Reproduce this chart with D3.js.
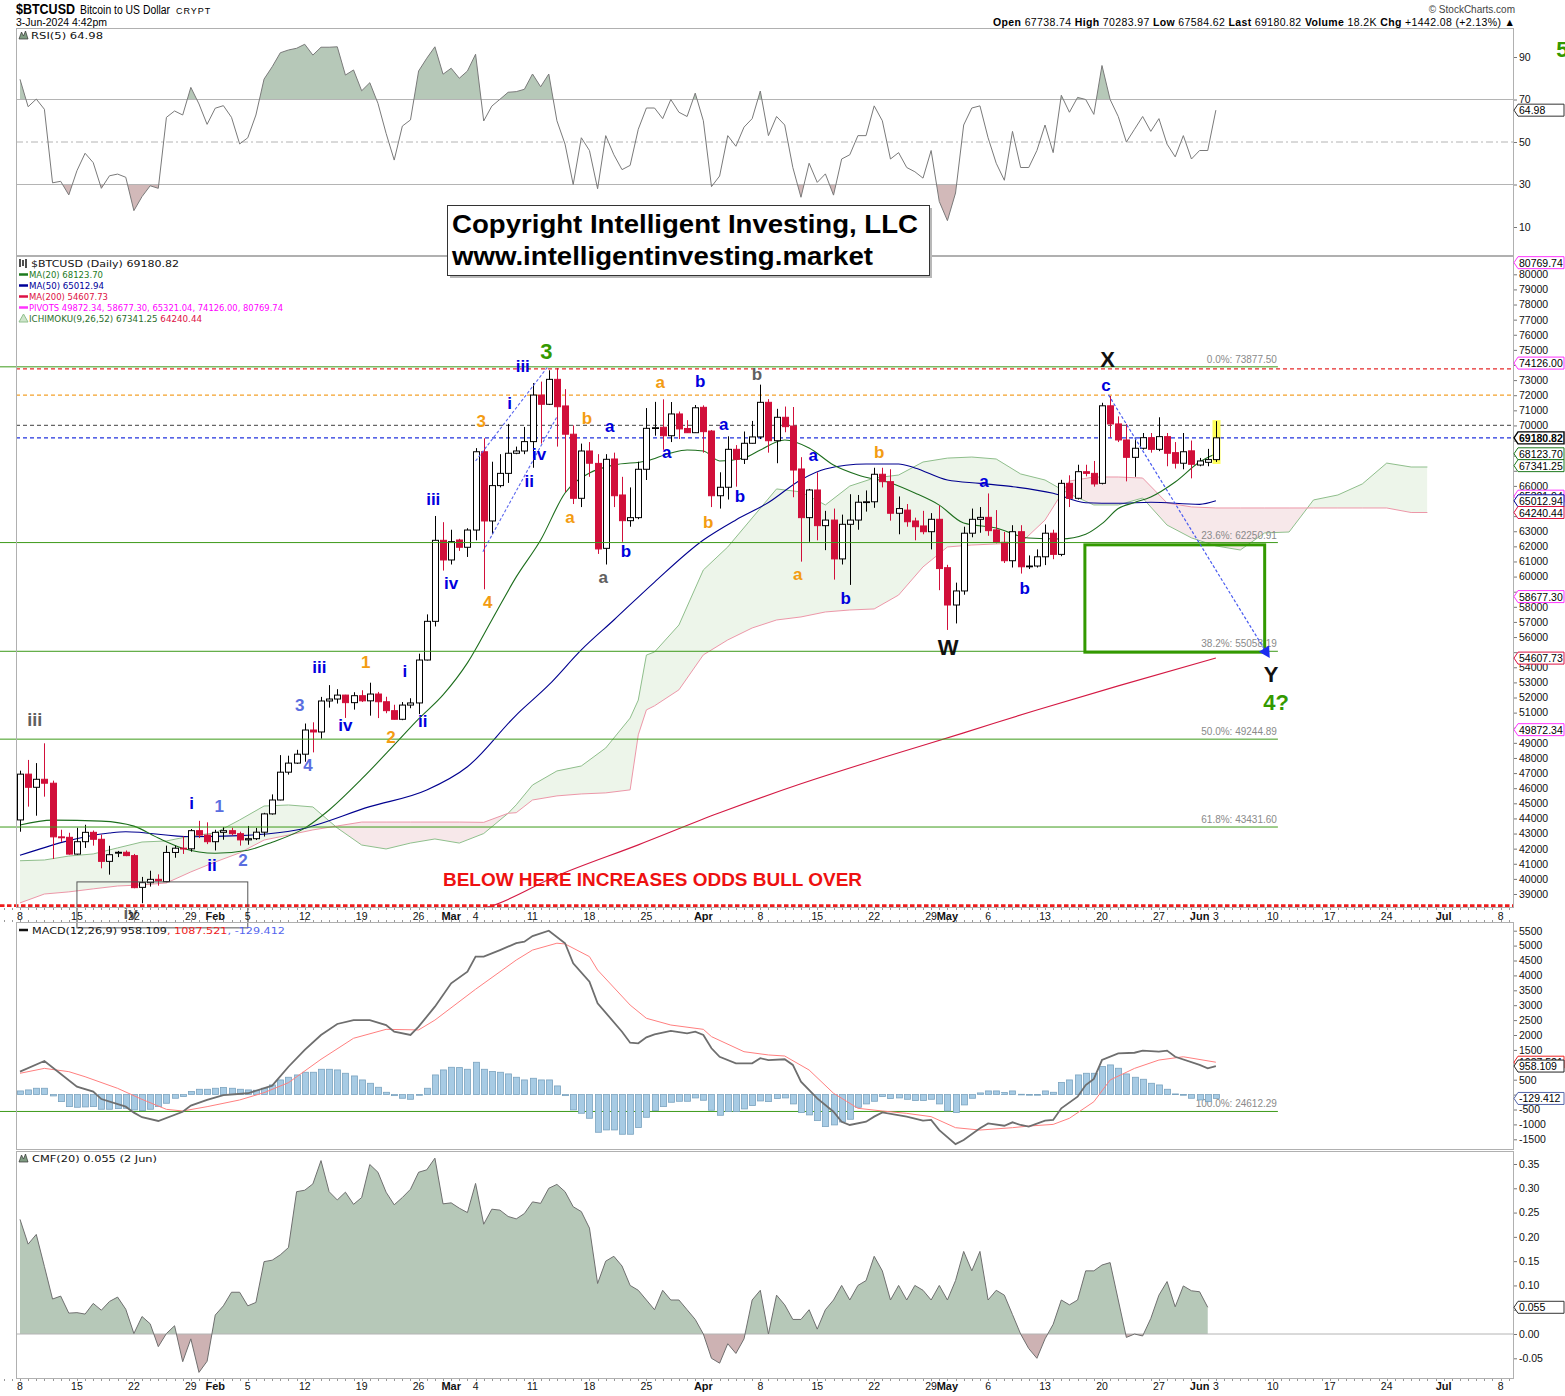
<!DOCTYPE html>
<html>
<head>
<meta charset="utf-8">
<title>$BTCUSD Bitcoin to US Dollar</title>
<script src="https://cdn.jsdelivr.net/npm/d3@7/dist/d3.min.js"></script>
<style>
html,body{margin:0;padding:0;background:#fff;}
svg{display:block;font-family:"Liberation Sans",Arial,sans-serif;}
</style>
</head>
<body>
<svg id="chart" width="1565" height="1396"></svg>
<script>
// ================= DATA =================
const firstDay = "2024-01-08";      // first daily bar
const axisEndDay = "2024-07-08";    // last date label on the axis

const openP = [43900,46930,46060,46590,46330,42780,42750,41640,42460,43080,
42620,41160,41700,41760,41540,39440,39750,39970,39820,41750,
42030,41990,43190,42900,42460,43080,43190,42990,42580,42660,
43090,44300,45220,47060,47660,48250,49850,49720,51770,51900,
52160,51660,52120,51780,52230,51720,51130,50560,51500,51640,
54480,57040,62400,61100,62420,61940,63080,68260,63680,66020,
66830,68160,68310,68930,72010,71400,73050,71290,69420,65180,
68310,67490,61870,67780,65400,63700,63900,67100,69810,69880,
69320,70760,69800,69520,71200,69630,65350,65910,68420,67760,
68820,69240,71530,68990,70540,69960,67120,63900,65730,63370,
63740,61170,63460,63740,64920,64950,66770,66280,64190,64400,
63680,63350,62970,63790,60590,58120,59050,62870,63790,63920,
63090,62270,61050,62970,60650,60700,61310,62870,61470,66170,
65180,66940,66830,66170,71300,70100,69040,67890,68490,69190,
68420,69260,68200,67500,68320,67380,67560,67738.74];
const highP = [47160,47870,47660,48970,46500,43250,43050,43380,43580,43200,
42930,42190,41850,41880,41650,40130,40540,40300,42200,42200,
42820,43300,43840,43740,43250,43420,43380,43120,43500,43370,
44370,45590,48190,48150,48540,50280,50360,52040,52820,52550,
52180,52350,52480,52980,52370,52050,51520,51700,51950,54900,
57500,64010,63600,63100,62500,63200,68500,69150,67600,68100,
70100,68600,69900,72800,72900,73650,73800,72400,70000,68800,
68900,68100,68100,68200,66600,65900,67600,71150,71560,71730,
71550,70920,70350,71350,71330,69700,66900,69280,68700,69600,
70300,72700,71740,71100,71250,71220,67900,65800,66900,64350,
64500,64100,65450,65400,65700,67200,67200,67100,65300,64800,
63900,64350,64200,64700,60780,59600,63300,64500,64600,65500,
64400,62950,63400,63400,61400,61800,63450,63100,66400,66700,
67400,67400,67650,71500,71950,70600,70100,69200,69500,69500,
70540,69500,68900,69500,69000,67850,68450,70283.97];
const lowP = [43120,44780,44180,45440,41320,42450,41600,41600,42050,42200,
40700,40280,41440,41500,39380,38390,39490,39550,39780,41400,
41650,41800,42700,42300,41880,42590,42880,42200,42260,42570,
42800,44250,45200,46900,47600,47750,48370,49280,51330,51600,
50650,51200,51700,50800,50640,50960,50550,50500,51290,50900,
54450,56700,60400,60800,61700,61300,62400,59160,62800,65900,
66200,68100,68100,67200,68800,71350,68600,65600,64800,64600,
66600,61500,60800,64600,62300,63300,63800,66390,69320,68390,
68900,69100,69500,69500,68200,64600,64500,65100,65950,67450,
68800,69100,68200,67500,69550,65250,60990,62300,62400,61750,
59800,60800,59450,63100,64300,64550,65900,63700,62800,63300,
62400,62800,61800,59100,56470,56900,58800,62600,62900,62700,
62200,60900,60600,60200,60500,60600,60760,61150,61350,64600,
65100,66630,65950,66100,69200,68900,66300,66600,68400,68200,
68300,67300,67150,67100,66500,67300,67300,67584.62];
const closeP = [46930,46060,46590,46330,42780,42720,41640,42460,43080,42620,
41160,41600,41760,41540,39420,39750,39970,39880,41750,42030,
41990,43190,42900,42460,43080,43190,42990,42580,42660,43090,
44300,45220,47060,47660,48250,49850,49720,51770,51900,52160,
51660,52120,51780,52230,51720,51130,50560,51500,51640,54480,
57040,62400,61100,62310,61940,63080,68260,63680,66020,66830,
68160,68310,68930,72010,71400,73050,71240,69420,65180,68310,
67500,61830,67760,65350,63700,63900,67100,69810,69850,69320,
70760,69770,69520,71170,69590,65350,65910,68420,67760,68820,
69240,71530,68990,70540,69920,67050,63900,65730,63370,63740,
61170,63460,63740,64920,64950,66770,66280,64190,64500,63630,
63300,62970,63790,60530,58120,59050,62870,63790,63920,63040,
62270,61050,62970,60650,60700,61310,62870,61470,66170,65180,
66940,66830,66130,71300,70100,69040,67890,68490,69190,68420,
69260,68160,67500,68260,67430,67650,67740,69180.82];

// moving averages: [bar index, value]
const ma20Pts = [[0,43560],[4,43890],[10,43820],[14,43490],[17,42700],[20,42030],[24,41700],[28,41900],[31,42430],[35,43360],[38,44560],[42,46610],[46,48860],[49,50580],[52,52170],[55,54290],[58,57130],[61,59980],[64,62420],[67,65530],[70,66850],[73,67380],[77,67650],[80,68180],[82,68380],[84,68310],[86,67650],[89,67850],[91,68380],[94,69040],[97,68510],[100,67380],[103,66720],[107,66190],[110,65530],[113,64730],[116,63540],[120,63210],[124,62550],[128,62490],[131,62800],[133,63500],[135,64500],[137,64900],[139,65270],[142,66260],[145,67580],[147,68124]];
const ma50Pts = [[0,41560],[11,43040],[13,43120],[21,42790],[27,42860],[34,43230],[43,44780],[50,45880],[55,47420],[61,50840],[65,52830],[69,55150],[73,57130],[78,59640],[84,62420],[88,63750],[92,64900],[96,66410],[99,67120],[104,67450],[108,67450],[110,67190],[114,66390],[118,66170],[122,65950],[127,65510],[131,64890],[135,64850],[139,64920],[145,64780],[147,65013]];
const ma200Pts = [[54,37700],[58,38220],[66,40200],[76,42250],[86,44370],[96,46290],[106,48010],[116,49660],[125,51180],[135,52770],[147,54608]];

// Ichimoku cloud spans (bar index, span A, span B)
const cloudIdx = [0,3,6,9,12,15,18,21,24,27,30,33,36,39,42,45,48,51,54,57,60,61,63,66,69,72,75,76,77,78,81,84,87,90,93,96,99,102,105,108,111,114,117,120,123,126,129,132,135,138,141,144,147,150,153,156,159,162,165,168,171,173];
const spanA = [41200,41250,41510,41650,42050,42440,42510,42840,43040,43900,44820,44890,44760,43370,42240,41980,42370,42640,42370,43000,44340,44900,46210,47140,47470,48660,50640,51830,54810,55010,56800,60440,61960,63880,65800,65600,64740,65990,66520,66720,67580,67840,67910,67780,66790,66390,65470,64740,64740,65200,63410,62560,62030,61760,62890,62950,65070,65400,66130,67510,67250,67250];
const spanB = [38410,39000,39140,39340,39530,39600,39730,40460,41120,41720,42570,42900,43240,43500,43760,43760,43760,43760,43760,43740,44340,44380,45220,45490,45620,45690,45890,49530,51180,51450,52510,54820,55810,56600,57130,57330,57660,57790,57860,58780,60640,61960,62090,62160,62220,63740,66320,66590,66590,66520,64870,64610,64540,64540,64540,64540,64540,64540,64540,64540,64240,64240];

const rsi5 = [79.5,66.6,70.2,65.4,30.8,31.5,25.1,36.5,44.7,40.3,
28.2,34.1,34.9,33.4,17.7,24.3,29.4,28.2,61.6,64.6,
62.7,75.7,67.9,58.3,65.9,67.1,61.6,49.1,52.0,62.7,
79.6,85.4,92.0,93.3,94.1,96.0,90.9,94.6,94.6,94.8,
81.5,83.9,74.1,77.9,68.2,54.1,41.5,57.5,60.4,83.4,
89.4,94.8,81.9,84.7,80.0,83.4,91.3,59.9,66.9,70.1,
73.4,73.7,74.8,82,76,82,60,49,30,52,
46,28,53,44,37,39,56,66,66,61,
70,64,62,73,60,29,34,53,48,57,
61,74,53,62,58,38,24,40,31,35,
25,42,44,53,53,67,60,42,45,38,
36,33,46,22,13,26,58,66,67,52,
40,32,55,38,38,46,58,45,72,64,
71,70,63,86,70,62,50,56,62,55,
61,49,43,53,42,46,46,64.98];

const macdPts = [[0,770],[3,1130],[7,265],[9,100],[10,-150],[13,-405],[14,-605],[15,-760],[17,-885],[20,-575],[21,-370],[23,-180],[25,-15],[28,45],[31,300],[33,935],[35,1500],[37,2000],[39,2370],[41,2500],[43,2500],[45,2335],[46,2110],[48,2000],[49,2280],[51,2950],[53,3735],[55,4125],[56,4630],[57,4630],[59,4850],[61,5080],[62,5130],[63,5320],[65,5500],[67,5080],[68,4405],[70,3790],[71,3065],[74,2110],[75,1740],[76,1720],[77,1920],[78,2020],[80,2135],[82,2055],[83,2110],[84,2000],[85,1555],[86,1270],[88,1050],[90,1050],[91,1220],[92,1160],[94,1185],[95,995],[96,435],[98,-125],[100,-575],[101,-910],[102,-1020],[104,-910],[105,-740],[106,-595],[109,-740],[111,-875],[112,-850],[113,-1190],[115,-1660],[116,-1525],[118,-1130],[119,-965],[121,-1045],[122,-930],[123,-1020],[124,-1075],[126,-875],[127,-850],[128,-460],[130,-70],[131,320],[132,525],[133,1160],[135,1385],[137,1405],[138,1475],[140,1440],[141,1475],[142,1270],[145,995],[146,880],[147,958]];
const signalPts = [[0,715],[3,880],[6,770],[8,600],[12,210],[15,-160],[18,-495],[20,-550],[23,-405],[27,-180],[30,65],[33,400],[37,1185],[41,1890],[45,2190],[49,2170],[51,2500],[56,3535],[61,4515],[63,4850],[66,5080],[67,5055],[70,4630],[71,4180],[75,3005],[77,2560],[80,2335],[84,2190],[85,1945],[89,1440],[92,1330],[94,1295],[97,825],[100,45],[103,-460],[106,-550],[109,-630],[112,-740],[115,-1110],[118,-1190],[122,-1110],[124,-1055],[127,-1000],[129,-795],[132,-240],[134,490],[137,880],[140,1160],[143,1270],[147,1087]];
const macdHist = [123,157,213,213,-45,-235,-403,-425,-414,-403,
-492,-492,-470,-459,-515,-537,-492,-403,-291,-123,
-67,101,179,179,213,235,213,179,157,146,
213,324,492,582,660,750,750,850,850,828,
716,626,492,380,246,78,-34,-123,-157,-22,
213,660,828,917,906,850,1085,850,772,750,
694,582,492,548,492,492,291,-34,-515,-626,
-794,-1264,-1186,-1186,-1331,-1331,-1107,-761,-537,-403,
-257,-224,-224,-112,-190,-526,-694,-571,-571,-481,
-369,-213,-235,-134,-112,-313,-604,-682,-873,-1074,
-1018,-918,-828,-425,-313,-224,-67,-134,-112,-157,
-201,-201,-157,-313,-548,-604,-347,-123,56,123,
123,67,123,11,0,0,123,78,403,492,
660,716,716,940,996,884,694,582,515,380,
324,179,22,-22,-123,-179,-235,-129];

const cmf20 = [0.236,0.185,0.205,0.139,0.072,0.078,0.043,0.044,0.041,0.063,
0.049,0.067,0.076,0.051,0.001,0.036,0.021,-0.026,0.001,0.017,
-0.057,-0.010,-0.079,-0.056,0.039,0.058,0.086,0.086,0.058,0.065,
0.149,0.152,0.163,0.178,0.293,0.296,0.309,0.357,0.293,0.276,
0.292,0.267,0.281,0.349,0.333,0.292,0.266,0.281,0.298,0.333,
0.338,0.362,0.268,0.270,0.259,0.250,0.310,0.226,0.257,0.255,
0.242,0.237,0.248,0.272,0.269,0.300,0.308,0.293,0.262,0.252,
0.218,0.104,0.15,0.16,0.14,0.10,0.09,0.07,0.05,0.09,
0.07,0.07,0.05,0.03,0.00,-0.05,-0.06,-0.02,-0.04,-0.01,
0.07,0.09,0.00,0.08,0.06,0.03,0.03,0.05,0.01,0.05,
0.07,0.10,0.07,0.10,0.11,0.16,0.13,0.07,0.10,0.07,
0.10,0.09,0.07,0.10,0.07,0.11,0.17,0.13,0.17,0.07,
0.09,0.08,0.04,0.00,-0.03,-0.05,-0.01,0.02,0.07,0.06,
0.07,0.13,0.13,0.142,0.147,0.07,-0.007,0.0,-0.004,0.032,
0.080,0.108,0.056,0.099,0.089,0.087,0.055];

const fibValues = [73877.50, 62250.91, 55058.19, 49244.89, 43431.60, 24612.29];
const fibNames = ["0.0%", "23.6%", "38.2%", "50.0%", "61.8%", "100.0%"];
const refLevels = [73740, 72000, 70000, 69180.82];
const refColors = ["#e52a2a", "#f3a12b", "#666666", "#2233dd"];
const bullOverLevel = 38230;

const priceTags = [80769.74, 74126.00, 69180.82, 68123.70, 67341.25, 65321.04, 65012.94, 64240.44, 58677.30, 54607.73, 49872.34];
const priceTagColors = ["#ff33ff","#ff33ff","#000000","#1d7a1d","#1d7a1d","#ff33ff","#000099","#dd1144","#ff33ff","#dd1144","#ff33ff"];
const macdTags = [1087.521, 958.109, -129.412];
const macdTagColors = ["#ee2222", "#222222", "#5566aa"];

const rsiTicks = [90, 70, 50, 30, 10];
const macdTicks = [5500,5000,4500,4000,3500,3000,2500,2000,1500,1000,500,0,-500,-1000,-1500];
const cmfTicks = [0.35,0.30,0.25,0.20,0.15,0.10,0.05,0.00,-0.05];
const priceTicks = d3.range(39000, 80001, 1000);

const dateLabels = [["2024-01-08","8"],["2024-01-15","15"],["2024-01-22","22"],["2024-01-29","29"],["2024-02-01","Feb"],["2024-02-05","5"],["2024-02-12","12"],["2024-02-19","19"],["2024-02-26","26"],["2024-03-01","Mar"],["2024-03-04","4"],["2024-03-11","11"],["2024-03-18","18"],["2024-03-25","25"],["2024-04-01","Apr"],["2024-04-08","8"],["2024-04-15","15"],["2024-04-22","22"],["2024-04-29","29"],["2024-05-01","May"],["2024-05-06","6"],["2024-05-13","13"],["2024-05-20","20"],["2024-05-27","27"],["2024-06-01","Jun"],["2024-06-03","3"],["2024-06-10","10"],["2024-06-17","17"],["2024-06-24","24"],["2024-07-01","Jul"],["2024-07-08","8"]];

// Elliott-wave annotations: [text, bar index, price, colour key, size key]
const waveLabels = [
 ["iii",1.8,50510,"gray","m"],["i",21.1,45020,"blue","s"],["1",24.5,44760,"lblue","s"],["ii",23.6,40860,"blue","s"],["2",27.4,41190,"lblue","s"],
 ["3",34.4,51440,"lblue","s"],["4",35.4,47470,"lblue","s"],["iii",36.8,53960,"blue","s"],["iv",40,50120,"blue","s"],["1",42.5,54290,"orange","s"],
 ["2",45.6,49330,"orange","s"],["i",47.3,53700,"blue","s"],["ii",49.5,50380,"blue","s"],["iii",50.8,65130,"blue","s"],["iv",53,59570,"blue","s"],
 ["3",56.7,70290,"orange","s"],["4",57.5,58310,"orange","s"],["i",60.2,71480,"blue","s"],["iii",61.8,73870,"blue","s"],["3",64.7,74860,"green","l"],
 ["ii",62.6,66320,"blue","s"],["iv",63.8,68110,"blue","s"],["b",69.7,70490,"orange","s"],["a",67.6,63880,"orange","s"],["a",72.5,69900,"blue","s"],
 ["a",71.7,59910,"gray","s"],["b",74.5,61630,"blue","s"],["a",78.7,72810,"orange","s"],["b",83.6,72880,"blue","s"],["a",79.5,68240,"blue","s"],
 ["a",86.5,70030,"blue","s"],["b",90.6,73340,"gray","s"],["b",88.5,65330,"blue","s"],["b",84.6,63610,"orange","s"],["a",97.5,68040,"blue","s"],
 ["a",95.6,60110,"orange","s"],["b",101.5,58520,"blue","s"],["b",105.6,68240,"orange","s"],["a",118.5,66320,"blue","s"],["W",114.1,55280,"black","l"],
 ["b",123.5,59240,"blue","s"],["X",133.7,74330,"black","l"],["c",133.5,72610,"blue","s"],["Y",153.8,53500,"black","l"],["4?",154.4,51650,"green","l"],
 ["iv",13.6,37690,"gray","s"],["5",189.6,94840,"green","l"]
];
const labelColors = {blue:"#0000dd", lblue:"#5a6ee0", orange:"#f39c12", gray:"#606060", green:"#339900", black:"#111111"};
const labelSizes = {s:17, m:18, l:22};

// drawn objects on the price chart (bar index / price)
const targetBox = {i0:130.9, i1:153.0, p0:55000, p1:62100};
const noteBox = {i0:7, i1:28, p0:36760, p1:39800};
const projection = [[133.8,72020],[153.3,54900]];
const channel1 = [[56,67650],[64.8,73830]];
const channel2 = [[56.9,61650],[66,70570]];
const bullOverText = {i:52, p:39530, text:"BELOW HERE INCREASES ODDS BULL OVER"};

// ================= CHART =================
const svg = d3.select("#chart");
const L = 16, R = 1514;
const P = {rsi:[28,256], price:[256,908], macd:[922,1150], cmf:[1151,1379]};
svg.append("rect").attr("width",1565).attr("height",1396).attr("fill","#fff");
const defs = svg.append("defs");
function clipRect(id, y0, y1){ defs.append("clipPath").attr("id",id).append("rect").attr("x",L).attr("y",y0).attr("width",R-L).attr("height",y1-y0); }
clipRect("cR", P.rsi[0], P.rsi[1]); clipRect("cP", P.price[0], P.price[1]);
clipRect("cM", P.macd[0], P.macd[1]); clipRect("cC", P.cmf[0], P.cmf[1]);

const day0 = new Date(firstDay + "T00:00:00Z");
const x = d3.scaleUtc().domain([day0, new Date(axisEndDay + "T00:00:00Z")]).range([20, 1500.6]);
const xi = i => x(new Date(+day0 + i * 864e5));
const xd = s => x(new Date(s + "T00:00:00Z"));

const yR = d3.scaleLinear().domain([0,100]).range([248.25, 35.75]);
const yP = d3.scaleLinear().domain([39000,80000]).range([894.0, 274.3]);
const yM = d3.scaleLinear().domain([-1500,5500]).range([1139.3, 930.7]);
const yC = d3.scaleLinear().domain([-0.05,0.35]).range([1358.3, 1164.0]);

// ---------- RSI ----------
defs.append("clipPath").attr("id","cR70").append("rect").attr("x",L).attr("y",P.rsi[0]).attr("width",R-L).attr("height",yR(70)-P.rsi[0]);
defs.append("clipPath").attr("id","cR30").append("rect").attr("x",L).attr("y",yR(30)).attr("width",R-L).attr("height",P.rsi[1]-yR(30));
const gR = svg.append("g").attr("clip-path","url(#cR)");
gR.append("path").datum(rsi5).attr("clip-path","url(#cR70)").attr("fill","#b6c8b8")
  .attr("d", d3.area().x((d,i)=>xi(i)).y0(yR(70)).y1(d=>yR(d)));
gR.append("path").datum(rsi5).attr("clip-path","url(#cR30)").attr("fill","#d2b9b9")
  .attr("d", d3.area().x((d,i)=>xi(i)).y0(yR(30)).y1(d=>yR(d)));
[70,30].forEach(v=> gR.append("line").attr("x1",L).attr("x2",R).attr("y1",yR(v)).attr("y2",yR(v)).attr("stroke","#b4b4b4"));
gR.append("line").attr("x1",L).attr("x2",R).attr("y1",yR(50)).attr("y2",yR(50)).attr("stroke","#b4b4b4").attr("stroke-dasharray","7,3,2,3");
gR.append("path").datum(rsi5).attr("fill","none").attr("stroke","#7a7a7a").attr("stroke-width",1)
  .attr("d", d3.line().x((d,i)=>xi(i)).y(d=>yR(d)));

// ---------- PRICE ----------
const gP = svg.append("g").attr("clip-path","url(#cP)");
const cloud = cloudIdx.map((d,k)=>({i:d, a:spanA[k], b:spanB[k]}));
defs.append("clipPath").attr("id","aboveB").append("path").attr("d", d3.area().x(d=>xi(d.i)).y0(P.price[0]).y1(d=>yP(d.b))(cloud));
defs.append("clipPath").attr("id","aboveA").append("path").attr("d", d3.area().x(d=>xi(d.i)).y0(P.price[0]).y1(d=>yP(d.a))(cloud));
const cloudArea = d3.area().x(d=>xi(d.i)).y0(d=>yP(d.b)).y1(d=>yP(d.a));
gP.append("g").attr("clip-path","url(#aboveB)").append("path").datum(cloud).attr("d",cloudArea).attr("fill","#edf5ea");
gP.append("g").attr("clip-path","url(#aboveA)").append("path").datum(cloud).attr("d",cloudArea).attr("fill","#f7e8ea");
gP.append("path").datum(cloud).attr("fill","none").attr("stroke","#8fbf8c").attr("stroke-width",1)
  .attr("d", d3.line().x(d=>xi(d.i)).y(d=>yP(d.a)));
gP.append("path").datum(cloud).attr("fill","none").attr("stroke","#ec97a8").attr("stroke-width",1)
  .attr("d", d3.line().x(d=>xi(d.i)).y(d=>yP(d.b)));

// reference dashed lines
refLevels.forEach((v,k)=> gP.append("line").attr("x1",L).attr("x2",R).attr("y1",yP(v)).attr("y2",yP(v))
  .attr("stroke",refColors[k]).attr("stroke-width",1.2).attr("stroke-dasharray","4,3"));

// fibonacci lines (drawn in price scale, unclipped like the source)
const fibX0 = x(new Date("2024-01-05T12:00:00Z")), fibX1 = x(new Date("2024-06-10T15:00:00Z"));
fibValues.forEach((v,k)=>{
  svg.append("line").attr("x1",fibX0).attr("x2",fibX1).attr("y1",yP(v)).attr("y2",yP(v)).attr("stroke","#3d9a1a").attr("stroke-width",1);
  svg.append("text").attr("x",fibX1-1).attr("y",yP(v)-4).attr("text-anchor","end").attr("font-size",10).attr("fill","#8a8a8a")
    .text(fibNames[k] + ": " + v.toFixed(2));
});

// moving averages
const lineIdx = d3.line().x(d=>xi(d[0])).y(d=>yP(d[1])).curve(d3.curveMonotoneX);
gP.append("path").datum(ma200Pts).attr("d",lineIdx).attr("fill","none").attr("stroke","#d41a44").attr("stroke-width",1.1);
gP.append("path").datum(ma50Pts).attr("d",lineIdx).attr("fill","none").attr("stroke","#00008f").attr("stroke-width",1.1);
gP.append("path").datum(ma20Pts).attr("d",lineIdx).attr("fill","none").attr("stroke","#1d6e1d").attr("stroke-width",1.1);

// candles
const bars = openP.map((o,i)=>({i, o, h:highP[i], l:lowP[i], c:closeP[i]}));
const lastBar = bars[bars.length-1];
gP.append("rect").attr("x",Math.round(xi(lastBar.i))-3.5).attr("width",8).attr("y",yP(lastBar.h)-1)
  .attr("height",yP(lastBar.l)-yP(lastBar.h)+3).attr("fill","#ffff5a");
const cg = gP.append("g");
bars.forEach(b=>{
  const up = b.c >= b.o;
  const col = up ? "#000" : "#d10f3a";
  const cx = Math.round(xi(b.i)) + 0.5;
  cg.append("line").attr("x1",cx).attr("x2",cx).attr("y1",yP(b.h)).attr("y2",yP(b.l)).attr("stroke",col).attr("stroke-width",1);
  const yt = yP(Math.max(b.o,b.c)), yb = yP(Math.min(b.o,b.c));
  cg.append("rect").attr("x",cx-3).attr("width",6).attr("y",yt).attr("height",Math.max(0.8,yb-yt))
    .attr("fill",up?"#fff":"#d10f3a").attr("stroke",col).attr("stroke-width",1);
});

// bull-over line
svg.append("line").attr("x1",0).attr("x2",R).attr("y1",yP(bullOverLevel)).attr("y2",yP(bullOverLevel))
  .attr("stroke","#ee1c1c").attr("stroke-width",2.6).attr("stroke-dasharray","4.5,2.5");
svg.append("text").attr("x",xi(bullOverText.i)).attr("y",yP(bullOverText.p)).attr("font-size",18).attr("font-weight","bold")
  .attr("fill","#ee1111").attr("textLength",419).attr("lengthAdjust","spacingAndGlyphs").text(bullOverText.text);

// boxes & projections
svg.append("rect").attr("x",xi(targetBox.i0)).attr("y",yP(targetBox.p1)).attr("width",xi(targetBox.i1)-xi(targetBox.i0))
  .attr("height",yP(targetBox.p0)-yP(targetBox.p1)).attr("fill","none").attr("stroke","#339900").attr("stroke-width",3);
svg.append("rect").attr("x",xi(noteBox.i0)).attr("y",yP(noteBox.p1)).attr("width",xi(noteBox.i1)-xi(noteBox.i0))
  .attr("height",yP(noteBox.p0)-yP(noteBox.p1)).attr("fill","none").attr("stroke","#555").attr("stroke-width",1);
const segLine = d3.line().x(d=>xi(d[0])).y(d=>yP(d[1]));
[channel1, channel2].forEach(s=> svg.append("path").datum(s).attr("d",segLine).attr("fill","none")
  .attr("stroke","#5a66ee").attr("stroke-width",1.1).attr("stroke-dasharray","3,2"));
svg.append("path").datum(projection).attr("d",segLine).attr("fill","none").attr("stroke","#4a5cf0").attr("stroke-width",1.2).attr("stroke-dasharray","3,2");
(function arrow(){
  const [a,b] = projection; const x1=xi(a[0]), y1=yP(a[1]), x2=xi(b[0]), y2=yP(b[1]);
  const len=Math.hypot(x2-x1,y2-y1), ux=(x2-x1)/len, uy=(y2-y1)/len, px=-uy, py=ux;
  const tip=[x2+ux*5,y2+uy*5], b1=[x2-ux*6+px*6,y2-uy*6+py*6], b2=[x2-ux*6-px*6,y2-uy*6-py*6];
  svg.append("path").attr("d",`M${tip}L${b1}L${b2}Z`).attr("fill","#1a2cf0");
})();

// wave labels
waveLabels.forEach(([t,i,p,c,s])=>{
  svg.append("text").attr("x",xi(i)).attr("y",yP(p)).attr("text-anchor","middle").attr("dominant-baseline","central")
    .attr("font-size",labelSizes[s]).attr("font-weight","bold").attr("fill",labelColors[c]).text(t);
});

// ---------- MACD ----------
const gM = svg.append("g").attr("clip-path","url(#cM)");
macdHist.forEach((v,i)=>{
  const y0 = yM(0), y1 = yM(v);
  gM.append("rect").attr("x",Math.round(xi(i))-2.5).attr("width",6).attr("y",Math.min(y0,y1)).attr("height",Math.max(0.6,Math.abs(y1-y0)))
    .attr("fill","#a7cbe4").attr("stroke","#7ba3bf").attr("stroke-width",0.8);
});
gM.append("path").datum(signalPts).attr("fill","none").attr("stroke","#ff7f7f").attr("stroke-width",1)
  .attr("d", d3.line().x(d=>xi(d[0])).y(d=>yM(d[1])));
gM.append("path").datum(macdPts).attr("fill","none").attr("stroke","#6e6e6e").attr("stroke-width",1.8)
  .attr("d", d3.line().x(d=>xi(d[0])).y(d=>yM(d[1])));

// ---------- CMF ----------
defs.append("clipPath").attr("id","cCpos").append("rect").attr("x",L).attr("y",P.cmf[0]).attr("width",R-L).attr("height",yC(0)-P.cmf[0]);
defs.append("clipPath").attr("id","cCneg").append("rect").attr("x",L).attr("y",yC(0)).attr("width",R-L).attr("height",P.cmf[1]-yC(0));
const gC = svg.append("g").attr("clip-path","url(#cC)");
const cmfArea = d3.area().x((d,i)=>xi(i)).y0(yC(0)).y1(d=>yC(d));
gC.append("path").datum(cmf20).attr("clip-path","url(#cCpos)").attr("fill","#b6c8b8").attr("d",cmfArea);
gC.append("path").datum(cmf20).attr("clip-path","url(#cCneg)").attr("fill","#cdb2b3").attr("d",cmfArea);
gC.append("line").attr("x1",L).attr("x2",R).attr("y1",yC(0)).attr("y2",yC(0)).attr("stroke","#b4b4b4");
gC.append("path").datum(cmf20).attr("fill","none").attr("stroke","#6f6f6f").attr("stroke-width",1)
  .attr("d", d3.line().x((d,i)=>xi(i)).y(d=>yC(d)));

// ---------- frames ----------
const frame = svg.append("g").attr("fill","none").attr("stroke","#b0b0b0").attr("stroke-width",1);
[P.rsi, P.price, P.macd, P.cmf].forEach(p=> frame.append("rect").attr("x",L+0.5).attr("y",p[0]+0.5).attr("width",R-L-1).attr("height",p[1]-p[0]-1));

// ---------- right axes (tick labels hidden under value tags are dropped) ----------
function rightAxis(scale, ticks, fmt, tagPos){
  const g = svg.append("g").attr("transform",`translate(${R},0)`)
    .call(d3.axisRight(scale).tickValues(ticks).tickFormat(fmt).tickSize(3).tickPadding(2));
  g.select(".domain").remove();
  g.selectAll("line").attr("stroke","#777");
  g.selectAll("text").attr("font-family","'Liberation Sans',Arial,sans-serif").attr("font-size",10.5).attr("fill","#111");
  g.selectAll(".tick").filter(v => tagPos.some(y => Math.abs(scale(v) - y) < 8.5)).select("text").remove();
}
const rsiTagY = [yR(rsi5[rsi5.length-1])];
const priceTagY = priceTags.map(v=>yP(v));
const macdTagY = macdTags.map(v=>yM(v));
const cmfTagY = [yC(cmf20[cmf20.length-1])];
rightAxis(yR, rsiTicks, v=>String(v), rsiTagY);
rightAxis(yP, priceTicks, v=>String(v), priceTagY);
rightAxis(yM, macdTicks, v=>String(v), macdTagY);
rightAxis(yC, cmfTicks, v=>v.toFixed(2), cmfTagY);

function tag(y, s, col, bold){
  svg.append("path").attr("d",`M${R},${y} L${R+4},${y-6} L1564,${y-6} L1564,${y+6} L${R+4},${y+6} Z`)
    .attr("fill","#fff").attr("stroke",col).attr("stroke-width",bold?1.4:1);
  svg.append("text").attr("x",R+5).attr("y",y+4).attr("font-size",10.5).attr("font-weight",bold?"bold":"normal").attr("fill","#000").text(s);
}
priceTags.forEach((v,k)=> tag(yP(v), v.toFixed(2), priceTagColors[k], v===closeP[closeP.length-1]));
tag(rsiTagY[0], rsi5[rsi5.length-1].toFixed(2), "#333", false);
macdTags.forEach((v,k)=> tag(yM(v), v.toFixed(3), macdTagColors[k], false));
tag(cmfTagY[0], cmf20[cmf20.length-1].toFixed(3), "#333", false);

// ---------- date axes ----------
function dateAxis(yLine, yText, upTicksAt){
  const days = d3.utcDay.range(new Date("2024-01-06T00:00:00Z"), new Date("2024-07-10T00:00:00Z"));
  days.forEach(d=>{
    const xx = Math.round(x(d))+0.5;
    svg.append("line").attr("x1",xx).attr("x2",xx).attr("y1",yLine).attr("y2",yLine+2).attr("stroke","#999");
    if(upTicksAt) svg.append("line").attr("x1",xx).attr("x2",xx).attr("y1",upTicksAt).attr("y2",upTicksAt-2).attr("stroke","#999");
  });
  dateLabels.forEach(([d,t])=>{
    const isMonth = isNaN(+t);
    svg.append("text").attr("x",xd(d)).attr("y",yText).attr("text-anchor","middle")
      .attr("font-size",isMonth?11:10.5).attr("font-weight",isMonth?"bold":"normal").attr("fill","#111").text(t);
  });
}
dateAxis(P.price[1], 920, P.macd[0]);
dateAxis(P.cmf[1], 1390, null);

// ---------- header & legends ----------
svg.append("text").attr("x",16).attr("y",14).attr("font-size",14).attr("font-weight","bold").attr("textLength",59).attr("lengthAdjust","spacingAndGlyphs").text("$BTCUSD");
svg.append("text").attr("x",80).attr("y",14).attr("font-size",12).attr("textLength",90).attr("lengthAdjust","spacingAndGlyphs").text("Bitcoin to US Dollar");
svg.append("text").attr("x",176).attr("y",14).attr("font-size",9).attr("letter-spacing",1).text("CRYPT");
svg.append("text").attr("x",16).attr("y",26).attr("font-size",10.5).attr("textLength",91).attr("lengthAdjust","spacingAndGlyphs").text("3-Jun-2024 4:42pm");
svg.append("text").attr("x",1515).attr("y",13).attr("text-anchor","end").attr("font-size",10).attr("fill","#444").text("\u00A9 StockCharts.com");
(function(){
  const t = svg.append("text").attr("x",1515).attr("y",26).attr("text-anchor","end").attr("font-size",10.5)
    .attr("textLength",522).attr("lengthAdjust","spacing");
  const parts = [["Open",1],["67738.74",0],["High",1],["70283.97",0],["Low",1],["67584.62",0],["Last",1],["69180.82",0],["Volume",1],["18.2K",0],["Chg",1],["+1442.08 (+2.13%) \u25B2",0]];
  parts.forEach(([s,b],k)=>{ t.append("tspan").attr("font-weight",b?"bold":"normal").text((k>0?" ":"")+s); });
})();

function icon(x0, y0){
  svg.append("path").attr("d",`M${x0},${y0+8} L${x0+2.5},${y0+1} L${x0+4.5},${y0+5} L${x0+6.5},${y0} L${x0+9},${y0+8} Z`).attr("fill","#7f9c82").attr("stroke","#333").attr("stroke-width",0.7);
}
const legFont = "'DejaVu Sans',Verdana,sans-serif";
function legend(x0, y, parts, len){
  const t = svg.append("text").attr("x",x0).attr("y",y).attr("font-family",legFont).attr("font-size",9);
  parts.forEach(([s,c])=> t.append("tspan").attr("fill",c).text(s));
  if(len) t.attr("textLength",len).attr("lengthAdjust","spacingAndGlyphs");
  return t;
}
function swatch(y, c){ svg.append("line").attr("x1",19).attr("x2",28).attr("y1",y).attr("y2",y).attr("stroke",c).attr("stroke-width",2.5); }

icon(19,31); legend(31,39,[["RSI(5) 64.98","#111"]],72);

svg.append("g").call(g=>{
  [[20,259,267],[23,260,266],[26,259,268]].forEach(([xx,a,b])=> g.append("line").attr("x1",xx).attr("x2",xx).attr("y1",a).attr("y2",b).attr("stroke","#222").attr("stroke-width",1.6));
});
legend(31,267,[["$BTCUSD (Daily) 69180.82","#111"]],148);
swatch(274.5,"#1d7a1d"); legend(29,278,[["MA(20) 68123.70","#1d7a1d"]],74);
swatch(285.5,"#000099"); legend(29,289,[["MA(50) 65012.94","#000099"]],75);
swatch(296.5,"#dd1144"); legend(29,300,[["MA(200) 54607.73","#dd1144"]],79);
swatch(307.5,"#ff33ff"); legend(29,311,[["PIVOTS 49872.34, 58677.30, 65321.04, 74126.00, 80769.74","#ff00ff"]],254);
svg.append("path").attr("d","M19,322 L23.5,314 L28,322 Z").attr("fill","#cfe5cc").attr("stroke","#8fbf8c");
legend(29,322,[["ICHIMOKU(9,26,52) 67341.25 ","#2c6e2c"],["64240.44","#dd1144"]],173);

swatch(930,"#111"); legend(32,934,[["MACD(12,26,9) 958.109","#111"],[", 1087.521","#ee2222"],[", -129.412","#5566ee"]],253);
icon(19,1154); legend(32,1162,[["CMF(20) 0.055 (2 Jun)","#111"]],125);

// ---------- copyright box ----------
svg.append("rect").attr("x",450).attr("y",208).attr("width",482).attr("height",70).attr("fill","#b8b8b8");
svg.append("rect").attr("x",447.5).attr("y",205.5).attr("width",482).attr("height",70).attr("fill","#fff").attr("stroke","#333").attr("stroke-width",1);
svg.append("text").attr("x",452).attr("y",233).attr("font-size",25).attr("font-weight","bold").attr("fill","#000")
  .attr("textLength",466).attr("lengthAdjust","spacingAndGlyphs").text("Copyright Intelligent Investing, LLC");
svg.append("text").attr("x",452).attr("y",265).attr("font-size",25).attr("font-weight","bold").attr("fill","#000")
  .attr("textLength",421).attr("lengthAdjust","spacingAndGlyphs").text("www.intelligentinvesting.market");
</script>
</body>
</html>
